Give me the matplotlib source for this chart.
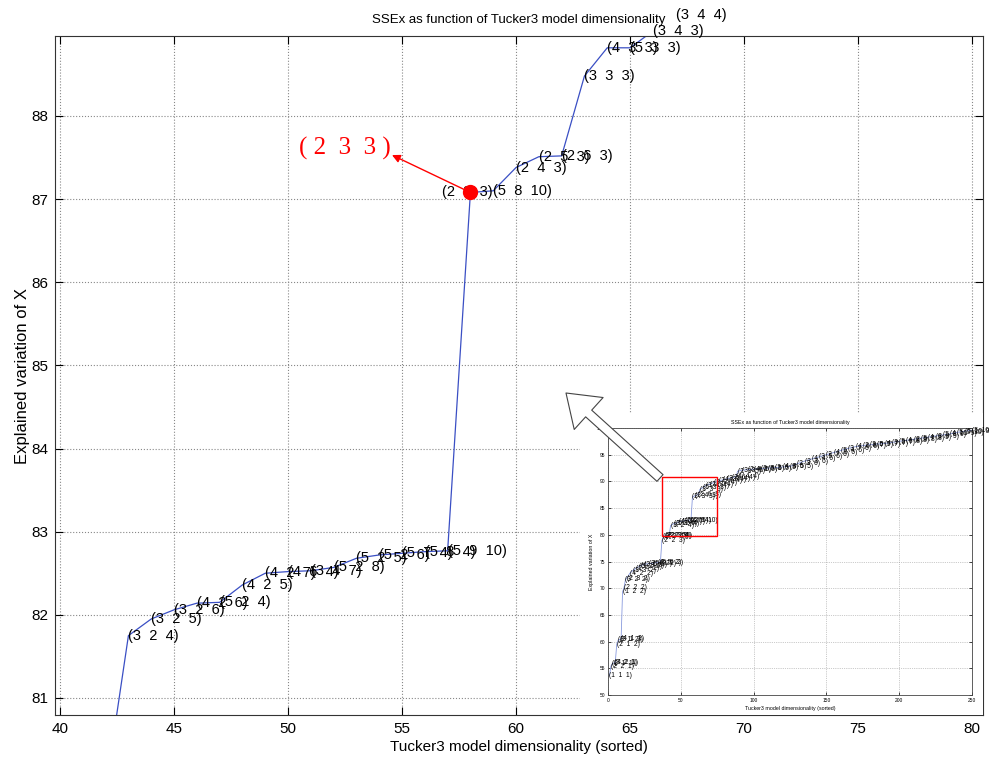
import matplotlib
matplotlib.use('Agg')
import matplotlib.pyplot as plt
from matplotlib.patches import Rectangle, FancyArrowPatch

plt.rcParams['font.family'] = ['Liberation Sans', 'DejaVu Sans']

# main (zoomed) view: sorted model index vs explained variation
main_x = [42, 43, 44, 45, 46, 47, 48, 49, 50, 51, 52, 53, 54, 55, 56, 57,
          58, 59, 60, 61, 62, 63, 64, 65, 66, 67]
main_y = [79.9, 81.75, 81.95, 82.06, 82.14, 82.15, 82.36, 82.50, 82.52, 82.53,
          82.57, 82.68, 82.72, 82.74, 82.76, 82.77,
          87.08, 87.10, 87.38, 87.51, 87.52, 88.48, 88.82, 88.82, 89.02, 89.22]
main_labels = ['', '3 2 4', '3 2 5', '3 2 6', '4 2 6', '5 2 4', '4 2 5', '4 2 7',
               '4 6 4', '3 4 7', '5 2 8', '5 2 5', '5 2 6', '5 7 4', '5 8 4', '5 9 10',
               '2 3 3', '5 8 10', '2 4 3', '2 5 3', '2 6 3', '3 3 3', '4 3 3', '5 3 3',
               '3 4 3', '3 4 4']
chosen = '2 3 3'

# inset (full view)
inset_x = [1, 2, 3, 4, 5, 6, 7, 8, 9, 10,
           11, 12, 13, 15, 17, 19, 21, 23, 25, 28,
           31, 34, 36, 37, 38, 39, 40, 41, 42, 43,
           45, 47, 49, 51, 53, 55, 57, 58, 60, 62,
           63, 65, 67, 70, 73, 76, 79, 82, 85, 88,
           89, 92, 96, 100, 105, 110, 115, 120, 125, 130,
           135, 140, 145, 150, 155, 160, 165, 170, 175, 180,
           185, 190, 195, 200, 205, 210, 215, 220, 225, 230,
           235, 240, 245, 250]
inset_y = [53.6, 55.4, 55.9, 56.0, 56.1, 59.5, 60.3, 60.4, 60.5, 69.3,
           70.1, 71.6, 71.9, 72.8, 73.3, 73.7, 74.0, 74.3, 74.5, 74.6,
           74.7, 74.8, 74.9, 78.9, 79.6, 79.8, 79.9, 79.9, 79.9, 81.75,
           82.06, 82.15, 82.50, 82.53, 82.68, 82.74, 82.77, 87.08, 87.38, 87.52,
           88.48, 88.82, 89.22, 89.5, 89.8, 90.1, 90.3, 90.5, 90.7, 90.9,
           91.9, 92.1, 92.2, 92.3, 92.4, 92.5, 92.6, 92.7, 92.8, 93.3,
           93.8, 94.2, 94.6, 95.0, 95.4, 95.8, 96.2, 96.5, 96.7, 96.9,
           97.0, 97.1, 97.3, 97.5, 97.7, 97.9, 98.1, 98.3, 98.5, 98.7,
           98.9, 99.2, 99.4, 99.6]
inset_labels = ['1 1 1', '2 2 1', '2 1 1', '3 2 1', '4 2 1', '2 1 2', '3 1 2', '3 1 3', '4 1 2', '1 2 2',
                '2 2 2', '3 2 2', '2 3 2', '4 2 2', '3 3 2', '2 4 2', '5 2 2', '4 3 2', '2 5 2', '3 4 2',
                '5 3 2', '4 5 2', '5 6 2', '2 2 3', '2 2 4', '2 2 5', '3 2 3', '2 3 4', '2 2 6', '3 2 4',
                '3 2 6', '5 2 4', '4 2 7', '3 4 7', '5 2 5', '5 7 4', '5 9 10', '2 3 3', '2 4 3', '2 6 3',
                '3 3 3', '5 3 3', '3 4 4', '2 3 4', '3 3 4', '2 4 4', '4 3 4', '3 5 4', '2 6 4', '4 4 4',
                '2 3 5', '3 3 5', '2 4 5', '4 3 5', '3 4 5', '5 3 5', '2 6 5', '4 4 5', '3 6 5', '2 3 6',
                '3 3 6', '4 4 6', '3 5 6', '2 7 6', '4 5 6', '5 4 6', '3 7 6', '4 6 6', '2 8 7', '3 6 7',
                '5 5 7', '4 7 7', '3 8 7', '5 6 8', '4 8 8', '2 9 8', '5 7 8', '4 9 9', '3 9 9', '5 8 9',
                '4 10 9', '5 9 10', '5 10 9', '5 10 10']


def fmt(s):
    return '(' + '  '.join(s.split()) + ')'


W, H = 989, 758
fig = plt.figure(figsize=(W / 100, H / 100), dpi=100)

def px_axes(l, t, r, b):
    return [l / W, (H - b) / H, (r - l) / W, (b - t) / H]

ax = fig.add_axes(px_axes(55, 36, 983, 715))
ax.plot(main_x, main_y, color='#3a4fc4', lw=0.9)
for x, y, lab in zip(main_x, main_y, main_labels):
    if not lab:
        continue
    if lab == chosen:
        ax.text(x - 0.15, y, fmt(lab), ha='center', va='center', fontsize=10.5)
        ax.plot([x], [y], 'o', color='red', ms=10, zorder=5)
        ax.annotate('', xy=(54.56, 87.53), xytext=(x, y),
                    arrowprops=dict(arrowstyle='-|>', color='red', lw=1, mutation_scale=12,
                                    shrinkA=0, shrinkB=0))
        ax.text(50.5, 87.61, '( ' + '  '.join(lab.split()) + ' )', color='red',
                fontsize=18, family='Liberation Serif', ha='left', va='center')
    else:
        ax.text(x, y, fmt(lab), ha='left', va='center', fontsize=10.5)

ax.set_xlim(39.78, 80.48)
ax.set_ylim(80.795, 88.962)
ax.set_xticks(range(40, 81, 5))
ax.set_yticks(range(81, 89))
ax.grid(True, linestyle=':', color='#888888', lw=0.8)
ax.tick_params(direction='in', top=True, right=True, length=6, width=0.8,
               labelsize=11, pad=5)
for s in ax.spines.values():
    s.set_color('#333333')
ax.set_title('SSEx as function of Tucker3 model dimensionality', fontsize=9.5, pad=9)
ax.set_xlabel('Tucker3 model dimensionality (sorted)', fontsize=11, labelpad=3)
ax.set_ylabel('Explained variation of X', fontsize=12, labelpad=1)

# white backing for the inset picture
bg = fig.add_axes(px_axes(580, 413, 983, 715))
bg.set_xticks([])
bg.set_yticks([])
for s in bg.spines.values():
    s.set_visible(False)
bg.set_facecolor('white')
bg.set_zorder(2)

ins = fig.add_axes(px_axes(608, 428, 972, 695))
ins.set_zorder(3)
ins.plot(inset_x, inset_y, color='#8899dd', lw=0.6)
for x, y, lab in zip(inset_x, inset_y, inset_labels):
    ins.text(x, y, fmt(lab), ha='left', va='center', fontsize=4.8)
ins.add_patch(Rectangle((37, 79.8), 38, 11, fill=False, edgecolor='red', lw=1, zorder=6))
ins.set_xlim(0, 250)
ins.set_ylim(50, 100)
ins.set_xticks(range(0, 251, 50))
ins.set_yticks(range(50, 101, 5))
ins.grid(True, linestyle=':', color='#999999', lw=0.5)
ins.tick_params(direction='in', top=True, right=True, length=2.5, width=0.5,
                labelsize=3.5, pad=2)
for s in ins.spines.values():
    s.set_linewidth(0.6)
    s.set_color('#444444')
ins.set_title('SSEx as function of Tucker3 model dimensionality', fontsize=3.8, pad=3)
ins.set_xlabel('Tucker3 model dimensionality (sorted)', fontsize=3.8, labelpad=2)
ins.set_ylabel('Explained variation of X', fontsize=3.8, labelpad=2)

arrow = FancyArrowPatch((660 / W, 1 - 478 / H), (566 / W, 1 - 393 / H),
                        transform=fig.transFigure,
                        arrowstyle='simple,head_length=2.2,head_width=3.1,tail_width=0.65',
                        mutation_scale=10, fc='white', ec='#444444', lw=0.8,
                        shrinkA=0, shrinkB=0, zorder=10)
fig.add_artist(arrow)

fig.savefig('out.png', dpi=100)
